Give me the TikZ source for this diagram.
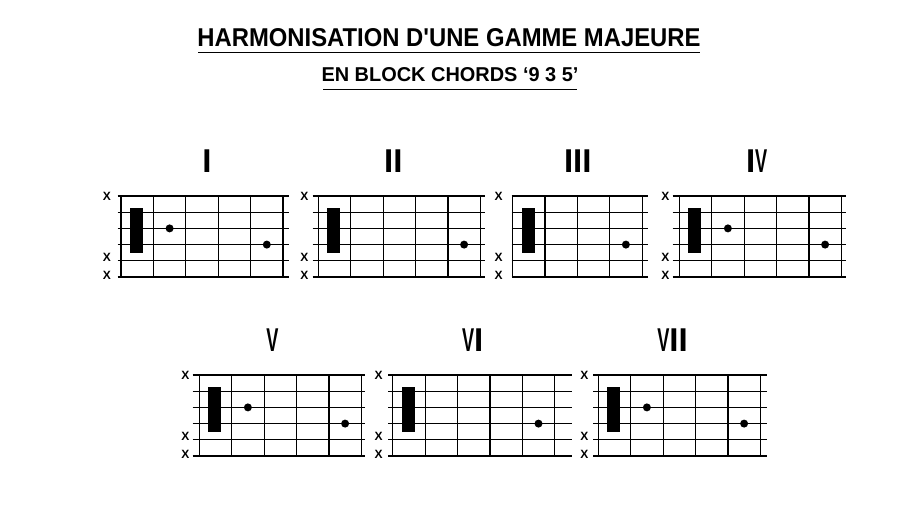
\documentclass[tikz,border=0pt]{standalone}
\usepackage{fontspec}
\usepackage{graphicx}
\newfontfamily\lsans{Liberation Sans}
\newcommand\romanV{\scalebox{0.55}[1]{V}}
\tikzset{
  gridline/.style={line width=1.2pt},
  xmark/.style={font=\lsans\bfseries\fontsize{12}{14}\selectfont, inner sep=0pt},
  numeral/.style={font=\lsans\bfseries\fontsize{33}{36}\selectfont, inner sep=0pt, anchor=base},
  headline/.style={font=\lsans\bfseries, inner sep=0pt},
  underline/.style={line width=1.5pt}
}
% #1 name, #2 x0, #3 y0, #4 number of columns, #5 left overhang, #6 right overhang, #7 second dot
\newcommand\chordbox[7]{%
  \foreach \k in {0,...,5}{\draw[gridline] ({#2-#5},{#3+16.2*\k}) -- ({#2+32.4*#4+#6},{#3+16.2*\k});}
  \foreach \j in {0,...,#4}{\draw[gridline] ({#2+32.4*\j},{#3}) -- ({#2+32.4*\j},{#3+81});}
  \fill ({#2+9},{#3+11.9}) rectangle ({#2+22},{#3+56.6});
  \ifnum#7=1 \fill ({#2+48.6},{#3+32.4}) circle (4pt);\fi
  \fill ({#2+32.4*(#4-0.5)},{#3+48.6}) circle (4pt);
  \node[xmark] (#1xa) at ({#2-14},{#3+0.5}) {X};
  \node[xmark] (#1xb) at ({#2-14},{#3+61.8}) {X};
  \node[xmark] (#1xc) at ({#2-14},{#3+79}) {X};
}
\begin{document}
\begin{tikzpicture}[x=1pt,y=-1pt]
  \useasboundingbox[fill=white] (0,0) rectangle (907,529);
  \node[headline] (title) at (449,38) {\resizebox{503pt}{18pt}{HARMONISATION D'UNE GAMME MAJEURE}};
  \draw[underline] (198,52.3) -- (700,52.3);
  \node[headline] (subtitle) at (450,75) {\resizebox{257pt}{14pt}{EN BLOCK CHORDS ‘9 3 5’}};
  \draw[underline] (323,89.3) -- (577,89.3);

  \node[numeral] (nI) at (207,172.5) {I};
  \node[numeral] (nII) at (393.3,172.5) {II};
  \node[numeral] (nIII) at (577.8,172.5) {III};
  \node[numeral] (nIV) at (756.7,172.5) {I\romanV};
  \node[numeral] (nV) at (272.5,351) {\romanV};
  \node[numeral] (nVI) at (472.7,351) {\romanV I};
  \node[numeral] (nVII) at (672.5,351) {\romanV II};

  \chordbox{c1}{121}{196}{5}{3.3}{6.3}{1}
  \chordbox{c2}{318.3}{196}{5}{5.6}{5}{0}
  \chordbox{c3}{512.5}{196}{4}{1}{5.6}{0}
  \chordbox{c4}{679.3}{196}{5}{6.6}{5}{1}
  \chordbox{c5}{199.3}{375}{5}{6.6}{4}{1}
  \chordbox{c6}{392.7}{375}{5}{4.4}{17}{0}
  \chordbox{c7}{598.3}{375}{5}{5}{6.4}{1}
\end{tikzpicture}
\end{document}
